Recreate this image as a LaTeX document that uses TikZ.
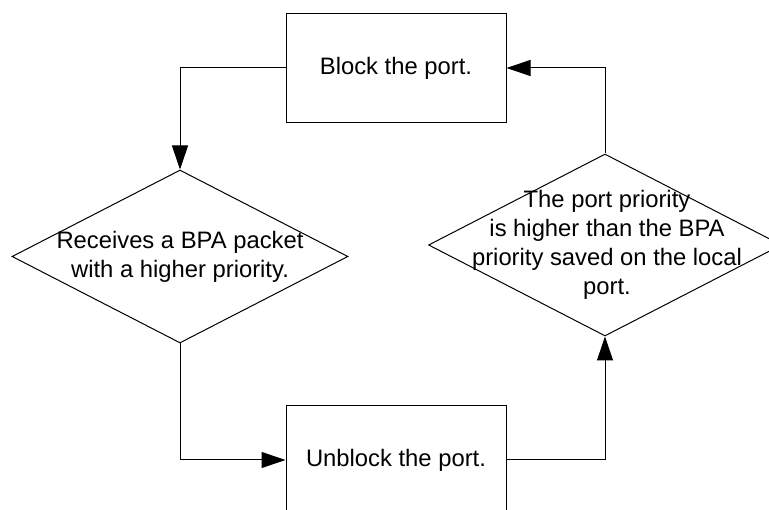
\documentclass[tikz,border=0pt]{standalone}
\usepackage{fontspec}
\setmainfont{Liberation Sans}
\usetikzlibrary{arrows.meta,shapes.geometric}
\begin{document}
\begin{tikzpicture}[x=1pt,y=-1pt,
  every node/.style={font=\fontsize{23.8}{28.8}\selectfont},
  boxnode/.style={draw,line width=1pt,minimum width=220pt,minimum height=109pt,inner sep=0pt,align=center},
  dianode/.style={draw,line width=1pt,diamond,inner sep=0pt},
  txt/.style={align=center,inner sep=0pt},
  arr/.style={line width=1pt,-{Triangle[length=24pt,width=16pt]}}]
\useasboundingbox (0,0) rectangle (769,510);
\clip (0,0) rectangle (769,510);
\fill[white] (0,0) rectangle (769,510);
\node[boxnode] (b1) at (396,68) {Block the port.};
\node[boxnode] (b2) at (396,460) {Unblock the port.};
\node[dianode,minimum width=336pt,minimum height=173pt] (d1) at (180,256.5) {};
\node[txt] (t1) at (180,257) {Receives a BPA packet\\with a higher priority.};
\node[dianode,minimum width=353pt,minimum height=182pt] (d2) at (605,245) {};
\node[txt] (t2) at (607,245) {The port priority\\is higher than the BPA\\priority saved on the local\\port.};
\draw[arr] (b1.west) -| (d1.north);
\draw[arr] (d1.south) |- (b2.west);
\draw[arr] (b2.east) -| (d2.south);
\draw[arr] (d2.north) |- (b1.east);
\end{tikzpicture}
\end{document}
